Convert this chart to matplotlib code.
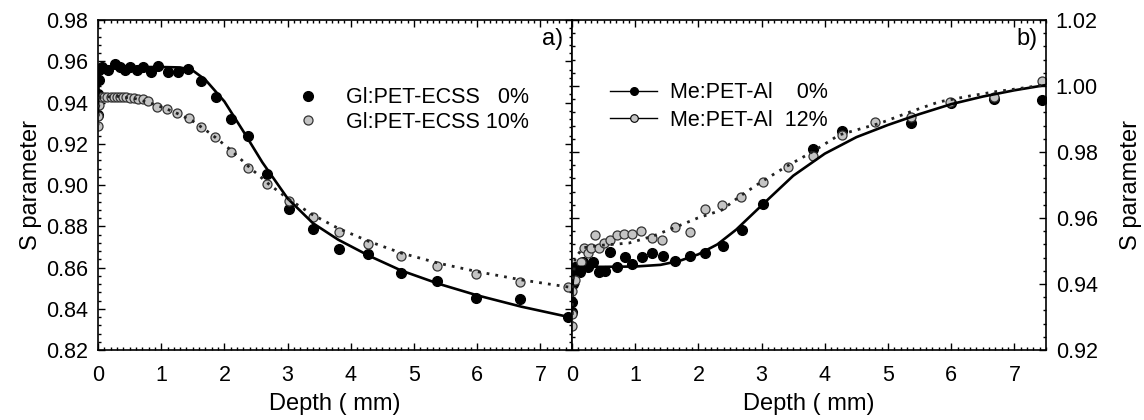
import matplotlib
matplotlib.use('Agg')
from matplotlib import pyplot as plt
from matplotlib.ticker import MultipleLocator

plt.rcParams['font.family'] = ['Liberation Sans', 'DejaVu Sans']
plt.rcParams['font.size'] = 15.5

# panel a) Gl:PET-ECSS 0%  (measured points)
a0_x = [0.0, 0.0, 0.01, 0.02, 0.06, 0.16, 0.27, 0.35, 0.43, 0.50, 0.61, 0.71, 0.84, 0.95,
        1.10, 1.26, 1.43, 1.63, 1.86, 2.10, 2.37, 2.68, 3.02, 3.40, 3.82, 4.28, 4.79,
        5.36, 5.98, 6.68, 7.43]
a0_y = [0.934, 0.944, 0.951, 0.956, 0.957, 0.956, 0.9585, 0.9574, 0.956, 0.9574, 0.956,
        0.9574, 0.955, 0.9578, 0.955, 0.955, 0.9563, 0.9504, 0.9427, 0.932, 0.9237,
        0.9053, 0.8884, 0.8787, 0.869, 0.8665, 0.8573, 0.8535, 0.8452, 0.8447, 0.836]
# panel a) Gl:PET-ECSS 0%  (fit)
a0_fx = [0.0, 0.01, 0.03, 0.2, 0.6, 1.0, 1.3, 1.5, 1.7, 2.0, 2.3, 2.6, 3.0, 3.4, 3.8,
         4.3, 4.8, 5.4, 6.0, 6.7, 7.45]
a0_fy = [0.935, 0.950, 0.9565, 0.957, 0.9572, 0.9572, 0.957, 0.9555, 0.951, 0.9405, 0.926,
         0.911, 0.8935, 0.8815, 0.8735, 0.8655, 0.8585, 0.852, 0.8465, 0.841, 0.836]

# panel a) Gl:PET-ECSS 10%
a10_x = [0.0, 0.0, 0.02, 0.05, 0.10, 0.15, 0.20, 0.25, 0.30, 0.35, 0.40, 0.45, 0.50,
         0.57, 0.64, 0.71, 0.79, 0.94, 1.09, 1.25, 1.44, 1.63, 1.85, 2.10, 2.37, 2.68,
         3.02, 3.40, 3.82, 4.28, 4.79, 5.36, 5.98, 6.68, 7.43]
a10_y = [0.9287, 0.9333, 0.939, 0.9428, 0.9428, 0.9428, 0.9428, 0.9428, 0.9428, 0.9428,
         0.9427, 0.9426, 0.9424, 0.942, 0.9418, 0.9417, 0.9407, 0.938, 0.9368, 0.9349,
         0.9325, 0.928, 0.9232, 0.916, 0.9083, 0.9005, 0.8922, 0.8845, 0.8774, 0.8714,
         0.8656, 0.8607, 0.8568, 0.853, 0.8505]
a10_fx = [0.0, 0.01, 0.03, 0.3, 0.6, 0.9, 1.2, 1.5, 1.8, 2.1, 2.4, 2.7, 3.0, 3.4, 3.8,
          4.3, 4.8, 5.4, 6.0, 6.7, 7.45]
a10_fy = [0.929, 0.938, 0.9425, 0.943, 0.9418, 0.939, 0.9355, 0.931, 0.9245, 0.917, 0.9085,
          0.9005, 0.8935, 0.8855, 0.879, 0.8725, 0.867, 0.862, 0.858, 0.854, 0.8505]

# panel b) Me:PET-Al 0%
b0_x = [0.0, 0.0, 0.01, 0.02, 0.04, 0.12, 0.18, 0.25, 0.33, 0.43, 0.52, 0.60, 0.71, 0.84,
        0.95, 1.10, 1.27, 1.44, 1.63, 1.86, 2.10, 2.39, 2.69, 3.02, 3.81, 4.28, 5.37,
        5.99, 6.68, 7.44]
b0_y = [0.9316, 0.9346, 0.940, 0.944, 0.9452, 0.9437, 0.9468, 0.9452, 0.9468, 0.9437,
        0.944, 0.9496, 0.9452, 0.9481, 0.9461, 0.9481, 0.9495, 0.9486, 0.947, 0.9485,
        0.9493, 0.9516, 0.9564, 0.9642, 0.9809, 0.9865, 0.9889, 0.9948, 0.996, 0.9958]
b0_fx = [0.0, 0.01, 0.03, 0.1, 0.5, 1.0, 1.4, 1.7, 2.0, 2.3, 2.6, 3.0, 3.5, 4.0, 4.5,
         5.0, 5.5, 6.0, 6.5, 7.0, 7.5]
b0_fy = [0.931, 0.940, 0.9448, 0.9452, 0.9452, 0.9453, 0.9458, 0.947, 0.949, 0.952, 0.9565,
         0.9638, 0.9728, 0.9795, 0.9845, 0.9882, 0.9915, 0.9945, 0.9968, 0.9987, 1.0003]

# panel b) Me:PET-Al 12%
b12_x = [0.0, 0.0, 0.0, 0.05, 0.15, 0.19, 0.25, 0.30, 0.36, 0.43, 0.51, 0.60, 0.71, 0.83,
         0.95, 1.09, 1.26, 1.43, 1.63, 1.86, 2.10, 2.37, 2.68, 3.02, 3.41, 3.81, 4.28,
         4.79, 5.37, 5.98, 6.68, 7.43]
b12_y = [0.9273, 0.931, 0.938, 0.9412, 0.9468, 0.9508, 0.9493, 0.9508, 0.9548, 0.9508,
         0.9525, 0.9533, 0.9548, 0.9551, 0.9551, 0.9562, 0.954, 0.9533, 0.9572, 0.9557,
         0.9626, 0.9639, 0.9663, 0.971, 0.9756, 0.9787, 0.9852, 0.989, 0.9907, 0.9952,
         0.9968, 1.0016]
b12_fx = [0.0, 0.01, 0.05, 0.18, 0.5, 0.9, 1.28, 1.66, 1.99, 2.37, 2.65, 3.0, 3.39, 3.8,
          4.23, 4.87, 5.4, 5.81, 6.3, 6.71, 7.1, 7.45]
b12_fy = [0.928, 0.940, 0.948, 0.951, 0.9518, 0.9524, 0.9545, 0.9574, 0.960, 0.9624,
          0.9665, 0.971, 0.9756, 0.980, 0.9852, 0.9887, 0.9925, 0.9952, 0.997, 0.9983,
          0.9993, 1.0003]

grey = '#c4c4c4'
dots = (0, (1, 2.2))

fig = plt.figure(figsize=(11.44, 4.2), dpi=100)
ax1 = fig.add_axes([98 / 1144, 70 / 420, 474 / 1144, 330 / 420])
ax2 = fig.add_axes([572 / 1144, 70 / 420, 474 / 1144, 330 / 420])

# --- a)
ax1.plot(a0_x, a0_y, 'o', color='black', ms=7, zorder=2, label='Gl:PET-ECSS   0%')
ax1.plot(a10_x, a10_y, 'o', mfc=grey, mec='#333333', mew=0.9, ms=6.5, zorder=2,
         label='Gl:PET-ECSS 10%')
ax1.plot(a0_fx, a0_fy, '-', color='black', lw=1.9, zorder=3)
ax1.plot(a10_fx, a10_fy, color='#222222', lw=2.0, ls=dots, zorder=3)
ax1.set_xlim(0, 7.5)
ax1.set_ylim(0.82, 0.98)
ax1.set_yticks([0.82, 0.84, 0.86, 0.88, 0.90, 0.92, 0.94, 0.96, 0.98])
ax1.set_xticks(range(8))
ax1.set_ylabel('S parameter', fontsize=17, labelpad=3)
ax1.set_xlabel('Depth ( mm)', fontsize=17, labelpad=5)
ax1.text(0.982, 0.975, 'a)', transform=ax1.transAxes, ha='right', va='top', fontsize=17)
ax1.legend(loc='upper left', bbox_to_anchor=(0.397, 0.822), frameon=False, fontsize=15.5,
           handlelength=1.2, handletextpad=1.2, labelspacing=0.15, borderaxespad=0)

# --- b)
ax2.plot(b0_x, b0_y, 'o', color='black', ms=7, zorder=2)
ax2.plot(b12_x, b12_y, 'o', mfc=grey, mec='#333333', mew=0.9, ms=6.5, zorder=2)
ax2.plot(b0_fx, b0_fy, '-', color='black', lw=1.9, zorder=3)
ax2.plot(b12_fx, b12_fy, color='#222222', lw=2.0, ls=dots, zorder=3)
h0, = ax2.plot([], [], '-o', color='black', lw=1, ms=5.5, label='Me:PET-Al    0%')
h12, = ax2.plot([], [], '-o', color='black', mfc=grey, lw=1, ms=5.5, mew=0.8,
                label='Me:PET-Al  12%')
ax2.legend(handles=[h0, h12], loc='upper left', bbox_to_anchor=(0.062, 0.838), frameon=False,
           fontsize=15.5, handlelength=2.2, handletextpad=0.6, labelspacing=0.32,
           borderaxespad=0)
ax2.set_xlim(0, 7.5)
ax2.set_ylim(0.92, 1.02)
ax2.set_yticks([0.92, 0.94, 0.96, 0.98, 1.00, 1.02])
ax2.set_xticks(range(8))
ax2.yaxis.tick_right()
ax2.yaxis.set_label_position('right')
ax2.set_ylabel('S parameter', fontsize=17, labelpad=16)
ax2.set_xlabel('Depth ( mm)', fontsize=17, labelpad=5)
ax2.text(0.982, 0.975, 'b)', transform=ax2.transAxes, ha='right', va='top', fontsize=17)

for ax in (ax1, ax2):
    ax.xaxis.set_minor_locator(MultipleLocator(0.1))
    ax.yaxis.set_minor_locator(MultipleLocator(0.004))
    ax.tick_params(which='both', direction='in', top=True, bottom=True, left=True,
                   right=True, labelsize=15.5, width=1.0)
    ax.tick_params(which='major', length=5, pad=7)
    ax.tick_params(which='minor', length=2.5)
    ax.tick_params(axis='x', which='major', pad=11)
    for s in ax.spines.values():
        s.set_linewidth(1.2)
ax1.tick_params(labelright=False, labelleft=True)
ax2.tick_params(labelleft=False, labelright=True)

fig.savefig('out.png', dpi=100)
